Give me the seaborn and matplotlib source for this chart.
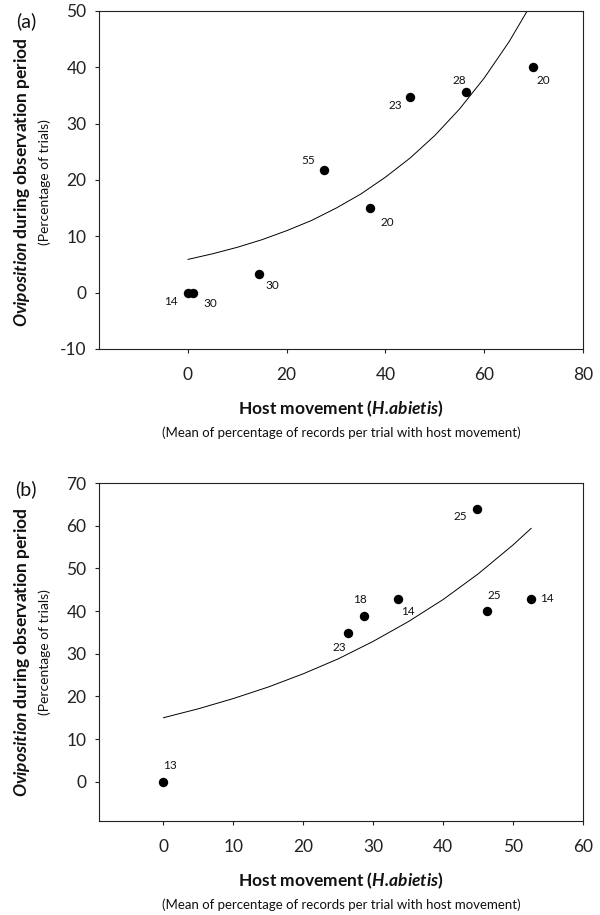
import numpy as np
import pandas as pd
import matplotlib
matplotlib.use("Agg")
import matplotlib.pyplot as plt
import seaborn as sns

# ----- DATA -----
# panel (a)
a_movement = [0, 1.1, 14.3, 27.5, 36.8, 45.0, 56.4, 69.9]
a_oviposition = [0, 0, 3.3, 21.8, 15.0, 34.8, 35.7, 40.0]
a_trials = ["14", "30", "30", "55", "20", "23", "28", "20"]
a_curve_x = [0, 5, 10, 15, 20, 25, 30, 35, 40, 45, 50, 55, 60, 65, 68.7, 70]
a_curve_y = [5.9, 6.9, 8.05, 9.4, 11.0, 12.8, 15.0, 17.5, 20.5, 23.9, 27.9, 32.6, 38.1, 44.5, 50.0, 52.3]

# panel (b)
b_movement = [0, 26.4, 28.7, 33.6, 44.8, 46.3, 52.6]
b_oviposition = [0, 34.8, 38.9, 42.9, 64.0, 40.0, 42.9]
b_trials = ["13", "23", "18", "14", "25", "25", "14"]
b_curve_x = [0, 5, 10, 15, 20, 25, 30, 35, 40, 45, 50, 52.6]
b_curve_y = [15.0, 17.1, 19.5, 22.2, 25.3, 28.8, 32.9, 37.5, 42.7, 48.7, 55.5, 59.4]

a_xticks = [0, 20, 40, 60, 80]
a_yticks = [-10, 0, 10, 20, 30, 40, 50]
b_xticks = [0, 10, 20, 30, 40, 50, 60]
b_yticks = [0, 10, 20, 30, 40, 50, 60, 70]

# label offsets in points (style only)
a_offsets = [(-12, -6.5), (12, -8), (10, -8.5), (-11, 7), (13, -10), (-11, -6.5), (-5, 8), (7, -9.5)]
b_offsets = [(4.5, 11.5), (-6.5, -10), (-3, 11.5), (7, -9.5), (-12, -6), (5, 11.5), (11.5, 0)]

# ----- STYLE -----
sns.set_style("ticks")
plt.rcParams['font.family'] = ['Lato', 'DejaVu Sans']
plt.rcParams['axes.unicode_minus'] = False
plt.rcParams['mathtext.fontset'] = 'custom'
plt.rcParams['mathtext.rm'] = 'Lato'
plt.rcParams['mathtext.it'] = 'Lato:italic'
plt.rcParams['mathtext.bf'] = 'Lato:bold'
plt.rcParams['mathtext.bfit'] = 'Lato:bold:italic'

fig = plt.figure(figsize=(6, 9.15), dpi=100)
ax_a = fig.add_axes([0.165, 0.6186, 0.8067, 0.3694])
ax_b = fig.add_axes([0.165, 0.1027, 0.8067, 0.3694])


def draw_panel(ax, mx, oy, trials, offs, cx, cy, xlim, ylim, xticks, yticks, tag, tag_y, ylab_y):
    pts = pd.DataFrame({'movement': mx, 'oviposition': oy})
    curve = pd.DataFrame({'movement': cx, 'oviposition': cy})
    sns.lineplot(data=curve, x='movement', y='oviposition', ax=ax, color='black',
                 linewidth=0.7, sort=False)
    sns.scatterplot(data=pts, x='movement', y='oviposition', ax=ax, color='black',
                    s=46, edgecolor='black', linewidth=0, zorder=3)
    for x, y, t, (dx, dy) in zip(mx, oy, trials, offs):
        ax.annotate(t, (x, y), xytext=(dx, dy), textcoords='offset points',
                    ha='center', va='center', fontsize=8.5, color='#111111')
    ax.set_xlim(*xlim)
    ax.set_ylim(*ylim)
    ax.set_xticks(xticks)
    ax.set_yticks(yticks)
    ax.set_xlabel('')
    ax.set_ylabel('')
    for sp in ax.spines.values():
        sp.set_visible(True)
        sp.set_color('#222222')
        sp.set_linewidth(0.8)
    ax.tick_params(axis='both', direction='out', length=3, width=0.8, colors='#222222',
                   labelsize=12.5, labelcolor='#222222')
    ax.tick_params(axis='x', pad=10)
    ax.tick_params(axis='y', pad=6)

    ax.annotate(r"Host movement ($\mathbfit{H.\!abietis}$)", (0.5, 0), xycoords='axes fraction',
                xytext=(0, -43), textcoords='offset points', ha='center', va='center',
                fontsize=12.5, fontweight='bold', color='#111111')
    ax.annotate("(Mean of percentage of records per trial with host movement)", (0.5, 0),
                xycoords='axes fraction', xytext=(0, -60), textcoords='offset points',
                ha='center', va='center', fontsize=9.5, color='#111111')

    fig.text(0.037, ylab_y, r"$\mathbfit{Oviposition}$ during observation period", rotation=90,
             ha='center', va='center', fontsize=12.5, fontweight='bold', color='#111111')
    fig.text(0.075, ylab_y, "(Percentage of trials)", rotation=90,
             ha='center', va='center', fontsize=10, color='#111111')
    fig.text(0.043, tag_y, tag, ha='center', va='center', fontsize=14, color='#111111')


draw_panel(ax_a, a_movement, a_oviposition, a_trials, a_offsets, a_curve_x, a_curve_y,
           (-18, 80), (-10, 50), a_xticks, a_yticks, '(a)', 1 - 21 / 915, 1 - 182 / 915)
draw_panel(ax_b, b_movement, b_oviposition, b_trials, b_offsets, b_curve_x, b_curve_y,
           (-9.2, 60), (-9.2, 70), b_xticks, b_yticks, '(b)', 1 - 489 / 915, 1 - 652 / 915)

fig.savefig('out.png', dpi=100, facecolor='white')
